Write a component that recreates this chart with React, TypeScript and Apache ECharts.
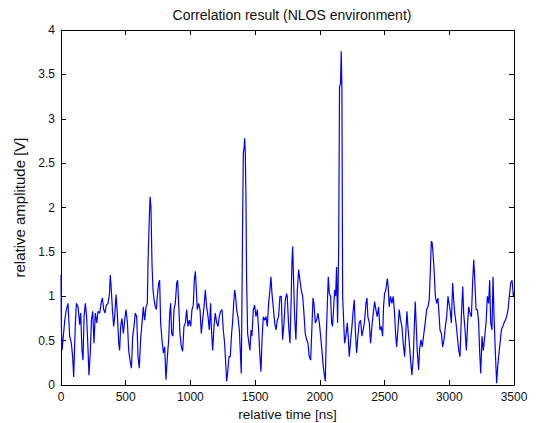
import React, { useEffect, useRef } from "react";
import * as echarts from "echarts";

// relative time [ns], relative amplitude [V]
const segment0to600: [number, number][] = [
  [0, 1.24], [3, 0.66], [8, 0.39], [18, 0.55], [29, 0.73], [41, 0.85], [54, 0.92], [67, 0.55], [80, 0.47], [90, 0.32],
  [98, 0.09], [111, 0.7], [119, 0.92], [132, 0.88], [144, 0.68], [152, 0.81], [162, 0.39], [170, 0.28], [178, 0.77], [188, 0.92],
  [198, 0.77], [209, 0.39], [216, 0.11], [227, 0.39], [235, 0.73], [245, 0.83], [255, 0.47], [265, 0.81], [276, 0.7], [286, 0.83],
  [299, 0.81], [312, 0.94], [320, 0.98], [330, 0.85], [340, 0.81], [350, 0.9], [363, 0.92], [374, 1.02], [381, 1.24], [389, 1.07],
  [397, 0.85], [407, 0.66], [415, 0.77], [425, 1.02], [435, 0.81], [446, 0.47], [453, 0.39], [461, 0.66], [471, 0.75], [482, 0.58],
  [492, 0.73], [502, 0.85], [513, 0.71], [523, 0.39], [533, 0.28], [544, 0.19], [554, 0.55], [564, 0.66], [574, 0.81],
];

const segment600to1160: [number, number][] = [
  [585, 0.77], [595, 0.32], [605, 0.19], [615, 0.51], [626, 0.7], [636, 0.88], [646, 0.73], [657, 0.88], [667, 0.92], [672, 1.37],
  [680, 1.77], [688, 2.12], [695, 2.01], [703, 1.37], [711, 1.07], [719, 0.96], [729, 0.88], [737, 0.85], [744, 1.0], [755, 1.15],
  [762, 1.18], [770, 0.7], [780, 0.51], [791, 0.36], [801, 0.43], [811, 0.06], [822, 0.32], [832, 0.51], [840, 0.81], [847, 0.92],
  [855, 0.58], [865, 0.55], [873, 0.85], [883, 0.92], [894, 1.15], [901, 1.18], [909, 0.92], [919, 0.58], [930, 0.43], [940, 0.38],
  [950, 0.66], [961, 0.7], [971, 0.85], [981, 0.66], [991, 0.73], [1002, 0.66], [1012, 0.85], [1022, 0.9], [1030, 1.18], [1038, 1.28],
  [1046, 1.07], [1053, 0.85], [1064, 0.92], [1074, 0.85], [1084, 0.58], [1094, 0.73], [1105, 0.88], [1115, 1.07], [1125, 0.88], [1136, 0.77],
  [1146, 0.62], [1156, 0.92],
];

const segment1160to1745: [number, number][] = [
  [1161, 0.66], [1172, 0.39], [1182, 0.66], [1192, 0.81], [1203, 0.7], [1213, 0.66], [1223, 0.77], [1233, 0.83], [1244, 0.85], [1254, 0.62],
  [1264, 0.47], [1272, 0.26], [1280, 0.04], [1287, 0.13], [1298, 0.32], [1308, 0.32], [1318, 0.58], [1326, 0.71], [1334, 0.92], [1342, 1.07],
  [1349, 1.0], [1357, 0.85], [1367, 0.77], [1378, 0.62], [1385, 0.39], [1393, 0.13], [1398, 0.92], [1403, 1.82], [1409, 2.62], [1414, 2.66],
  [1419, 2.78], [1424, 2.62], [1429, 2.1], [1434, 1.2], [1442, 0.58], [1452, 0.47], [1460, 0.39], [1468, 0.62], [1475, 0.55], [1486, 0.85],
  [1496, 0.9], [1506, 0.77], [1517, 0.85], [1527, 0.62], [1537, 0.32], [1545, 0.15], [1553, 0.51], [1563, 0.77], [1573, 0.73], [1584, 0.77],
  [1594, 0.66], [1604, 0.92], [1614, 1.07], [1622, 1.22], [1630, 1.03], [1640, 0.88], [1651, 0.7], [1661, 0.62], [1671, 0.73], [1681, 0.77],
  [1692, 1.0], [1702, 1.0], [1712, 0.51], [1723, 0.7], [1733, 0.96], [1743, 1.03],
];

const segment1745to2340: [number, number][] = [
  [1748, 1.0], [1759, 0.66], [1769, 0.47], [1779, 1.0], [1784, 1.37], [1790, 1.56], [1797, 1.18], [1805, 0.77], [1815, 0.51], [1826, 1.07],
  [1836, 1.3], [1846, 1.18], [1856, 1.07], [1867, 1.0], [1877, 0.81], [1887, 0.58], [1898, 0.51], [1908, 0.47], [1918, 0.32], [1929, 0.28],
  [1939, 0.66], [1947, 0.98], [1954, 0.92], [1965, 0.7], [1975, 0.73], [1985, 0.81], [1996, 0.7], [2006, 0.55], [2016, 0.39], [2026, 0.21],
  [2037, 0.09], [2042, 0.04], [2050, 0.58], [2060, 1.0], [2065, 1.22], [2073, 1.03], [2083, 1.0], [2091, 0.7], [2098, 0.66], [2106, 0.85],
  [2114, 1.07], [2122, 1.0], [2129, 1.33], [2137, 0.7], [2145, 1.5], [2152, 3.36], [2160, 3.4], [2165, 3.76], [2170, 3.38], [2176, 1.0],
  [2181, 1.0], [2191, 0.47], [2201, 0.55], [2212, 0.7], [2222, 0.47], [2227, 0.32], [2238, 0.51], [2248, 0.66], [2258, 0.85], [2266, 0.96],
  [2274, 0.62], [2284, 0.36], [2294, 0.55], [2304, 0.7], [2315, 0.73], [2325, 0.55], [2335, 0.62],
];

const segment2340to2930: [number, number][] = [
  [2346, 0.73], [2356, 0.92], [2364, 0.98], [2371, 0.77], [2382, 0.7], [2392, 0.47], [2402, 0.66], [2413, 0.81], [2423, 0.94], [2433, 0.85],
  [2443, 0.77], [2454, 0.88], [2464, 0.62], [2474, 0.66], [2485, 0.55], [2492, 0.88], [2500, 1.03], [2510, 1.07], [2521, 1.2], [2528, 1.11],
  [2536, 0.88], [2546, 1.0], [2557, 0.92], [2567, 1.0], [2577, 0.81], [2585, 0.58], [2593, 0.43], [2603, 0.62], [2613, 0.85], [2624, 0.73],
  [2634, 0.66], [2644, 0.47], [2655, 0.32], [2665, 0.62], [2673, 0.83], [2680, 0.66], [2691, 0.47], [2701, 0.28], [2711, 0.11], [2722, 0.32],
  [2729, 0.62], [2737, 0.94], [2745, 0.66], [2752, 0.39], [2763, 0.17], [2770, 0.39], [2781, 0.51], [2791, 0.43], [2801, 0.55], [2814, 0.7],
  [2825, 0.85], [2835, 0.88], [2845, 0.96], [2853, 1.26], [2861, 1.62], [2868, 1.6], [2876, 1.45], [2884, 1.26], [2892, 1.0], [2902, 0.92],
  [2912, 0.98], [2922, 0.77], [2928, 0.62],
];

const segment2930to3500: [number, number][] = [
  [2939, 0.58], [2949, 0.43], [2959, 0.51], [2970, 0.66], [2980, 0.77], [2990, 1.0], [2998, 0.92], [3006, 0.85], [3016, 0.7], [3026, 1.15],
  [3034, 0.96], [3042, 0.81], [3052, 0.7], [3062, 0.55], [3073, 0.39], [3083, 0.32], [3093, 0.77], [3104, 1.11], [3111, 0.81], [3122, 0.62],
  [3132, 0.39], [3142, 0.7], [3150, 0.88], [3160, 0.81], [3171, 0.77], [3181, 1.18], [3189, 1.41], [3196, 1.22], [3207, 0.85], [3217, 0.85],
  [3227, 0.7], [3235, 0.36], [3243, 0.13], [3253, 0.55], [3263, 0.39], [3274, 0.55], [3284, 0.7], [3294, 1.0], [3304, 0.92], [3312, 1.18],
  [3320, 0.7], [3330, 0.62], [3338, 1.22], [3346, 0.77], [3356, 0.36], [3366, 0.02], [3374, 0.21], [3384, 0.36], [3395, 0.51], [3402, 0.62],
  [3413, 0.66], [3423, 0.7], [3433, 0.73], [3443, 0.77], [3454, 0.85], [3464, 1.0], [3474, 1.15], [3485, 1.18], [3495, 1.0], [3500, 1.05],
];

const xTicks = { min: 0, max: 3500, interval: 500 };
const yTicks = { min: 0, max: 4, interval: 0.5 };

const titleText = "Correlation result (NLOS environment)";
const xName = "relative time [ns]";
const yName = "relative amplitude [V]";

const FONT = "Liberation Sans, Arial, sans-serif";

export default function App() {
  const ref = useRef<HTMLDivElement>(null);
  useEffect(() => {
    if (!ref.current) return;
    const chart = echarts.init(ref.current, undefined, { renderer: "svg" });
    const data = [
      ...segment0to600,
      ...segment600to1160,
      ...segment1160to1745,
      ...segment1745to2340,
      ...segment2340to2930,
      ...segment2930to3500,
    ];
    const axisLine = { onZero: false, lineStyle: { color: "#000", width: 1 } };
    const axisTick = { inside: true, length: 5, lineStyle: { color: "#000", width: 1 } };
    const label = { fontFamily: FONT, fontSize: 12, color: "#111" };
    chart.setOption({
      animation: false,
      backgroundColor: "#fff",
      title: {
        text: titleText,
        left: 287,
        top: 3,
        textAlign: "center",
        textStyle: { fontFamily: FONT, fontSize: 14, fontWeight: "normal", color: "#111" },
      },
      grid: { left: 61, right: 24, top: 30, bottom: 38, outerBoundsMode: "none", containLabel: false },
      xAxis: [
        {
          type: "value",
          position: "bottom",
          ...xTicks,
          name: xName,
          nameLocation: "middle",
          nameGap: 20,
          nameTextStyle: { ...label, fontSize: 13.5 },
          axisLine,
          axisTick,
          axisLabel: { ...label, margin: 6, formatter: (v: number) => String(v) },
          splitLine: { show: false },
        },
        {
          type: "value",
          position: "top",
          ...xTicks,
          axisLine,
          axisTick,
          axisLabel: { show: false },
          splitLine: { show: false },
        },
      ],
      yAxis: [
        {
          type: "value",
          position: "left",
          ...yTicks,
          name: yName,
          nameLocation: "middle",
          nameGap: 32,
          nameRotate: 90,
          nameTextStyle: { ...label, fontSize: 15 },
          axisLine,
          axisTick,
          axisLabel: { ...label, margin: 6, formatter: (v: number) => String(v) },
          splitLine: { show: false },
        },
        {
          type: "value",
          position: "right",
          ...yTicks,
          axisLine,
          axisTick,
          axisLabel: { show: false },
          splitLine: { show: false },
        },
      ],
      series: [
        {
          type: "line",
          data,
          xAxisIndex: 0,
          yAxisIndex: 0,
          showSymbol: false,
          lineStyle: { color: "#0000ff", width: 1.2 },
          itemStyle: { color: "#0000ff" },
        },
      ],
    });
    return () => chart.dispose();
  }, []);
  return (
    <div
      ref={ref}
      style={{ position: "fixed", left: 0, top: 0, width: 538, height: 423 }}
    />
  );
}
